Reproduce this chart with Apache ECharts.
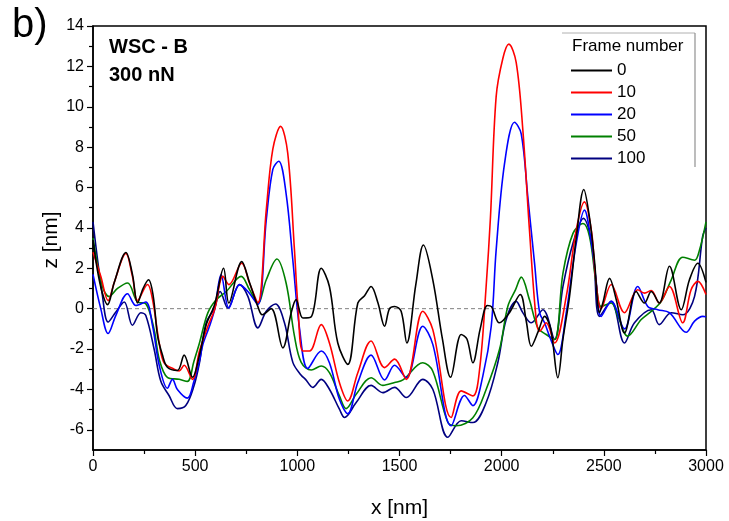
<!DOCTYPE html>
<html>
<head>
<meta charset="utf-8">
<script src="https://cdn.jsdelivr.net/npm/echarts@6/dist/echarts.min.js"></script>
<style>
  html, body { margin: 0; padding: 0; background: #fff; }
  #chart { width: 729px; height: 521px; }
</style>
</head>
<body>
<div id="chart"></div>
<script>
// Height profiles z(x) along the scratch for several frame numbers, [x nm, z nm]
const frame0 = [
  [0,3.4],[20,2.0],[45,0.8],[71,0.2],[104,1.3],[161,2.78],[193,1.7],[218,0.28],[245,1.0],[272,1.43],
  [295,0.6],[316,-1.35],[340,-2.3],[364,-2.9],[413,-3.06],[446,-2.3],[487,-3.4],[521,-2.3],[554,-0.8],
  [595,0.2],[639,2.0],[665,0.28],[728,2.33],[766,1.3],[807,0.1],[828,-0.3],[872,0],[929,-1.94],
  [970,-0.2],[994,0.45],[1027,-0.46],[1068,-0.4],[1117,2.0],[1157,1.1],[1198,-1.7],[1247,-2.76],
  [1296,0.28],[1329,0.64],[1361,1.1],[1394,0.3],[1427,-0.87],[1451,0],[1476,0.11],[1508,-0.13],
  [1536,-1.7],[1580,1.2],[1617,3.15],[1663,1.43],[1710,-1.5],[1750,-3.4],[1802,-1.28],[1830,-1.5],
  [1859,-2.68],[1895,-1.0],[1930,0.16],[1950,0.1],[1989,-0.7],[2038,-0.2],[2091,0.7],[2120,-0.6],
  [2145,-1.86],[2180,-1.1],[2210,-0.38],[2240,-1.0],[2275,-3.42],[2300,-1.5],[2332,0.6],[2365,3.5],
  [2402,5.9],[2430,4.5],[2454,2.4],[2479,-0.2],[2495,0.28],[2528,1.5],[2561,0.44],[2601,-1.2],
  [2658,0.85],[2699,0.28],[2732,0.85],[2771,0.28],[2821,2.1],[2879,-0.05],[2919,1.43],[2960,2.25],
  [3000,1.3]
];
const frame10 = [
  [0,2.8],[38,1.6],[74,0.4],[104,1.3],[161,2.74],[193,1.6],[218,0.4],[267,1.2],[291,0.48],[324,-1.7],
  [348,-2.68],[397,-3.0],[422,-3.08],[446,-2.8],[487,-3.5],[521,-2.1],[562,-0.87],[595,-0.05],
  [636,1.6],[665,1.19],[728,2.25],[766,1.26],[807,0.3],[848,4.9],[880,7.9],[918,9.03],[953,7.7],
  [986,2.9],[1002,0.28],[1027,-2.1],[1060,-2.1],[1117,-0.79],[1157,-1.7],[1206,-3.66],[1247,-4.57],
  [1296,-3.17],[1361,-1.6],[1427,-2.92],[1476,-2.5],[1533,-3.5],[1614,-0.13],[1663,-1.04],
  [1753,-5.39],[1802,-4.07],[1859,-4.32],[1892,-3.0],[1924,1.1],[1945,4.5],[1973,10.5],[2006,12.4],
  [2035,13.1],[2071,12.2],[2104,8.8],[2136,3.9],[2169,-0.54],[2186,-1.12],[2218,-0.7],[2259,-1.7],
  [2316,0.6],[2365,3.9],[2405,5.29],[2440,3.8],[2460,1.5],[2487,0],[2536,1.2],[2601,-0.2],[2666,0.94],
  [2699,0.77],[2732,0.9],[2771,0.28],[2821,1.1],[2886,-0.7],[2927,0.94],[2960,1.35],[3000,0.7]
];
const frame20 = [
  [0,1.7],[38,0],[74,-1.23],[112,-0.33],[169,0.74],[210,0.16],[258,0.33],[291,-0.82],[324,-2.8],
  [364,-3.94],[389,-3.5],[413,-4.0],[462,-4.43],[494,-3.6],[521,-2.6],[537,-1.8],[570,-0.87],
  [595,-0.05],[627,1.68],[665,0.03],[717,1.19],[758,0.85],[807,0.2],[848,4.4],[880,6.9],[909,7.3],
  [945,5.7],[978,2.4],[1011,-1.0],[1051,-2.96],[1117,-2.1],[1157,-2.68],[1206,-4.49],[1247,-5.2],
  [1296,-3.66],[1361,-2.3],[1427,-3.53],[1476,-2.8],[1533,-3.42],[1614,-0.87],[1663,-1.77],
  [1753,-5.8],[1818,-4.3],[1859,-4.8],[1908,-3.33],[1949,-0.87],[1973,2.9],[2014,7.18],[2063,9.23],
  [2096,8.65],[2128,5.53],[2161,2.24],[2186,-0.21],[2210,-0.7],[2234,-1.36],[2275,-2.27],[2316,-0.21],
  [2365,3.24],[2405,4.88],[2440,3.2],[2460,1.6],[2487,-0.38],[2536,0.36],[2601,-1.0],[2666,1.1],
  [2715,0.11],[2764,-0.05],[2821,-0.2],[2903,-1.17],[2944,-0.62],[2984,-0.38],[3000,-0.4]
];
const frame50 = [
  [0,3.5],[46,1.1],[79,0.6],[120,1.0],[169,1.27],[218,0.33],[258,0.25],[299,-1.03],[324,-2.5],
  [364,-3.4],[422,-3.5],[462,-3.6],[494,-2.6],[521,-1.7],[562,-0.21],[603,0.44],[652,0.85],
  [725,1.6],[766,0.94],[807,0.28],[848,1.43],[900,2.46],[945,1.27],[986,-1.36],[1019,-2.66],
  [1068,-3.04],[1117,-2.84],[1157,-3.17],[1206,-4.32],[1239,-4.95],[1288,-4.24],[1361,-3.42],
  [1418,-3.8],[1476,-3.66],[1517,-3.53],[1614,-2.68],[1663,-3.1],[1737,-5.64],[1778,-5.8],
  [1859,-5.4],[1924,-4.0],[1990,-2.0],[2030,0.11],[2068,0.94],[2096,1.56],[2136,0.44],[2177,-0.95],
  [2218,-1.28],[2259,-1.53],[2300,1.76],[2349,3.73],[2398,4.22],[2430,3.57],[2462,1.27],[2487,0.11],
  [2536,0.28],[2569,-0.38],[2617,-1.36],[2683,-0.54],[2732,-0.13],[2781,0.36],[2830,1.43],
  [2886,2.55],[2944,2.4],[2968,2.9],[3000,4.3]
];
const frame100 = [
  [0,4.3],[46,0.66],[74,-0.66],[112,-0.16],[153,0.33],[193,-0.82],[234,-0.2],[258,-0.33],[299,-2.0],
  [332,-3.6],[372,-4.3],[413,-4.95],[454,-4.8],[494,-3.83],[521,-2.68],[554,-0.7],[595,0.03],
  [622,0.85],[660,0.03],[717,1.19],[758,0.61],[807,-0.95],[848,-0.13],[893,0.23],[937,-0.7],
  [978,-2.66],[1019,-3.3],[1040,-3.5],[1076,-3.9],[1117,-3.5],[1157,-3.99],[1206,-4.98],[1231,-5.39],
  [1288,-4.65],[1361,-3.8],[1418,-4.16],[1476,-3.9],[1533,-4.4],[1614,-3.5],[1663,-3.99],
  [1737,-6.37],[1802,-5.55],[1859,-5.64],[1924,-4.65],[1981,-2.68],[2022,-0.54],[2071,0.36],
  [2104,-0.21],[2145,-0.7],[2202,-0.05],[2259,-1.53],[2300,1.1],[2349,3.24],[2400,4.47],[2446,2.9],
  [2479,-0.38],[2536,0.36],[2601,-1.7],[2650,-0.7],[2732,-0.05],[2771,-0.79],[2830,-0.2],
  [2886,-0.3],[2944,0.61],[2984,3.6],[3000,4.0]
];
// Reference level z = 0
const baseline = [[0,0],[2350,0]];

const frameNames = ['0', '10', '20', '50', '100'];
const frameColors = ['#000000', '#ff0000', '#0000ff', '#008000', '#000080'];
const profiles = [frame0, frame10, frame20, frame50, frame100];

const xTicks = [0, 500, 1000, 1500, 2000, 2500, 3000];
const yMajor = [-6, -4, -2, 0, 2, 4, 6, 8, 10, 12, 14];
const yMinor = [-5, -3, -1, 1, 3, 5, 7, 9, 11, 13];

const FONT = '"Liberation Sans", Arial, sans-serif';

const chart = echarts.init(document.getElementById('chart'), null, { renderer: 'canvas' });

const profileSeries = profiles.map((d, i) => ({
  name: frameNames[i],
  type: 'line',
  data: d,
  smooth: 0.35,
  symbol: 'none',
  z: 10 - i,
  lineStyle: { color: frameColors[i], width: 1.6 },
  itemStyle: { color: frameColors[i] },
  emphasis: { disabled: true }
}));

chart.setOption({
  animation: false,
  backgroundColor: '#ffffff',
  grid: {
    left: 93, right: 23, top: 26, bottom: 71,
    containLabel: false, outerBoundsMode: 'none',
    show: true, borderColor: '#000', borderWidth: 1.5, backgroundColor: 'transparent'
  },
  xAxis: {
    type: 'value', min: 0, max: 3000, interval: 500,
    name: 'x [nm]', nameLocation: 'middle', nameGap: 48,
    nameTextStyle: { fontFamily: FONT, fontSize: 21, color: '#000' },
    axisLine: { show: true, onZero: false, lineStyle: { color: '#000', width: 1.5 } },
    axisTick: { show: true, length: 6, lineStyle: { color: '#000', width: 1.2 } },
    minorTick: { show: true, splitNumber: 2, length: 4, lineStyle: { color: '#000', width: 1.2 } },
    axisLabel: { fontFamily: FONT, fontSize: 16, color: '#000', margin: 9,
      customValues: xTicks, formatter: v => String(v) },
    splitLine: { show: false }
  },
  yAxis: [{
    type: 'value', min: -7, max: 14,
    axisLine: { show: true, onZero: false, lineStyle: { color: '#000', width: 1.5 } },
    axisTick: { show: true, length: 6, customValues: yMajor, lineStyle: { color: '#000', width: 1.2 } },
    axisLabel: { fontFamily: FONT, fontSize: 16, color: '#000', margin: 9, customValues: yMajor,
      formatter: v => String(v) },
    splitLine: { show: false }
  }, {
    // minor ticks on the left side
    type: 'value', min: -7, max: 14, position: 'left',
    axisLine: { show: false },
    axisTick: { show: true, length: 4, customValues: yMinor, lineStyle: { color: '#000', width: 1.2 } },
    axisLabel: { show: false },
    splitLine: { show: false }
  }],
  legend: {
    data: frameNames,
    orient: 'vertical',
    left: 571, top: 62,
    icon: 'rect',
    itemWidth: 41, itemHeight: 2, itemGap: 5,
    textStyle: { fontFamily: FONT, fontSize: 17, color: '#000', lineHeight: 17, padding: [0, 0, 0, 0] },
    selectedMode: false,
    padding: 0
  },
  graphic: [
    { type: 'text', left: 12, top: 6, style: { text: 'b)', font: '40px ' + FONT, fill: '#000' } },
    { type: 'text', left: 109, top: 37, style: { text: 'WSC - B', font: 'bold 20px ' + FONT, fill: '#000' } },
    { type: 'text', left: 109, top: 65, style: { text: '300 nN', font: 'bold 20px ' + FONT, fill: '#000' } },
    { type: 'text', left: 572, top: 38, style: { text: 'Frame number', font: '17px ' + FONT, fill: '#000' } },
    // vertical axis title
    { type: 'text', x: 51, y: 240, rotation: Math.PI / 2,
      style: { text: 'z [nm]', font: '21px ' + FONT, fill: '#000', align: 'center', verticalAlign: 'middle' } },
    { type: 'line', shape: { x1: 562, y1: 33, x2: 695, y2: 33 }, style: { stroke: '#b0b0b0', lineWidth: 1 } },
    { type: 'line', shape: { x1: 695, y1: 33, x2: 695, y2: 167 }, style: { stroke: '#909090', lineWidth: 1.2 } }
  ],
  series: [{
    name: 'baseline',
    type: 'line',
    data: baseline,
    symbol: 'none',
    z: 1,
    lineStyle: { color: '#808080', width: 1, type: [4, 3] },
    emphasis: { disabled: true }
  }].concat(profileSeries)
});
</script>
</body>
</html>
